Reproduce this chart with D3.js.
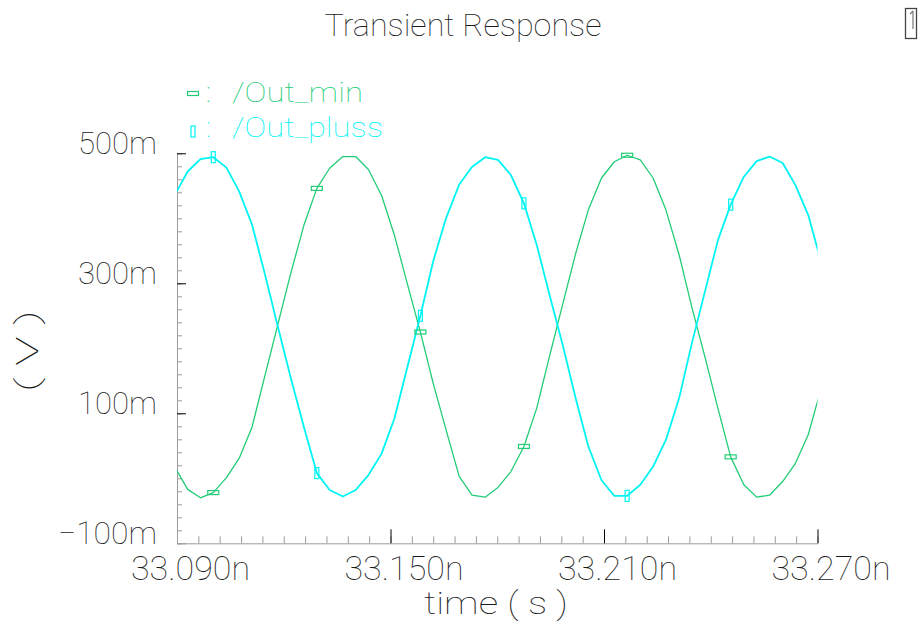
<!DOCTYPE html>
<html>
<head>
<meta charset="utf-8">
<script src="https://cdn.jsdelivr.net/npm/d3@7"></script>
<style>
  body { margin: 0; background: #fff; }
  svg text { font-family: Roboto, "DejaVu Sans", sans-serif; font-weight: 100; fill: #1a1a1a; }
</style>
</head>
<body>
<svg id="chart" width="921" height="625"></svg>
<script>
// sample times (ns) of the transient run
var times = [33.0893, 33.0930, 33.0966, 33.1002, 33.1039, 33.1075, 33.1111, 33.1148, 33.1184, 33.1220,
             33.1257, 33.1293, 33.1329, 33.1366, 33.1402, 33.1438, 33.1475, 33.1511, 33.1547, 33.1584,
             33.1620, 33.1656, 33.1693, 33.1729, 33.1766, 33.1802, 33.1838, 33.1875, 33.1911, 33.1947,
             33.1984, 33.2020, 33.2056, 33.2093, 33.2129, 33.2165, 33.2202, 33.2238, 33.2274, 33.2311,
             33.2347, 33.2384, 33.2420, 33.2456, 33.2493, 33.2529, 33.2565, 33.2602, 33.2638, 33.2674,
             33.2711]

// /Out_min (V)
var outMin = [0.018, -0.017, -0.030, -0.022, 0.001, 0.031, 0.079, 0.160, 0.238, 0.316,
              0.390, 0.446, 0.477, 0.495, 0.495, 0.475, 0.435, 0.374, 0.300, 0.225,
              0.146, 0.075, 0.003, -0.026, -0.029, -0.014, 0.010, 0.049, 0.108, 0.188,
              0.268, 0.345, 0.413, 0.462, 0.487, 0.497, 0.490, 0.462, 0.413, 0.344,
              0.263, 0.186, 0.108, 0.033, -0.010, -0.029, -0.026, -0.005, 0.023, 0.067,
              0.140]

// /Out_pluss (V)
var outPluss = [0.435, 0.472, 0.491, 0.494, 0.478, 0.441, 0.390, 0.312, 0.232, 0.154,
                0.078, 0.008, -0.018, -0.028, -0.018, 0.005, 0.038, 0.092, 0.170, 0.250,
                0.334, 0.400, 0.452, 0.479, 0.494, 0.490, 0.467, 0.423, 0.359, 0.282,
                0.205, 0.124, 0.049, -0.003, -0.027, -0.027, -0.010, 0.018, 0.059, 0.123,
                0.208, 0.288, 0.366, 0.421, 0.464, 0.488, 0.495, 0.485, 0.451, 0.405,
                0.331]

// sample indices that carry a marker
var markerIdx = [3, 11, 19, 27, 35, 43]

var xMajor = [33.09, 33.15, 33.21, 33.27]
var yMajor = [-0.1, 0.1, 0.3, 0.5]

var seriesNames = ["/Out_min", "/Out_pluss"]
var seriesColors = ["#22cc77", "#00f4f4"]

var dimensions = {
    left: 177,
    right: 817.5,
    top: 153.3,
    bottom: 543.3
}

var svg = d3.select("#chart")

var xScale = d3.scaleLinear()
    .domain([33.09, 33.27])
    .range([dimensions.left, dimensions.right])

var yScale = d3.scaleLinear()
    .domain([-0.1, 0.5])
    .range([dimensions.bottom, dimensions.top])

var xMinor = d3.range(0, 31).map(i => 33.09 + i * 0.006)
var yMinor = d3.range(0, 31).map(i => -0.1 + i * 0.02)

var axisGrey = "#9c9c9c"

// minor ticks
svg.append("g")
    .attr("transform", "translate(" + dimensions.left + ",0)")
    .call(d3.axisLeft(yScale).tickValues(yMinor).tickSize(-5).tickFormat(""))
    .call(g => g.select(".domain").remove())
    .selectAll("line").attr("stroke", axisGrey)

svg.append("g")
    .attr("transform", "translate(0," + dimensions.bottom + ")")
    .call(d3.axisBottom(xScale).tickValues(xMinor).tickSize(-7).tickFormat(""))
    .call(g => g.select(".domain").remove())
    .selectAll("line").attr("stroke", axisGrey)

// major ticks + labels
var yAxis = svg.append("g")
    .attr("transform", "translate(" + dimensions.left + ",0)")
    .call(d3.axisLeft(yScale)
        .tickValues(yMajor)
        .tickSize(-9)
        .tickSizeOuter(0)
        .tickPadding(20)
        .tickFormat(d => (Math.round(d * 1000) + "m").replace("-", "\u2212")))
yAxis.select(".domain").attr("stroke", axisGrey)
yAxis.selectAll(".tick line").attr("stroke", d => d == -0.1 ? axisGrey : "#000")
yAxis.selectAll(".tick text")
    .attr("dy", "0")
    .attr("fill", "#1a1a1a")
    .style("font-size", "31px")
    .attr("textLength", d => d < 0 ? 99 : 79)
    .attr("lengthAdjust", "spacingAndGlyphs")

var xAxis = svg.append("g")
    .attr("transform", "translate(0," + dimensions.bottom + ")")
    .call(d3.axisBottom(xScale)
        .tickValues(xMajor)
        .tickSize(-14)
        .tickSizeOuter(0)
        .tickPadding(13)
        .tickFormat(d => d3.format(".3f")(d) + "n"))
xAxis.select(".domain").attr("stroke", axisGrey)
xAxis.selectAll(".tick line").attr("stroke", d => d == 33.09 ? axisGrey : "#000")
xAxis.selectAll(".tick text")
    .attr("dx", 13)
    .attr("fill", "#1a1a1a")
    .style("font-size", "33px")
    .attr("textLength", 119)
    .attr("lengthAdjust", "spacingAndGlyphs")

// axis titles
svg.append("text")
    .attr("x", 496)
    .attr("y", 614)
    .attr("text-anchor", "middle")
    .style("font-size", "31px")
    .attr("textLength", 144)
    .attr("lengthAdjust", "spacingAndGlyphs")
    .text("time ( s )")

svg.append("text")
    .attr("transform", "translate(38,351) rotate(-90)")
    .attr("text-anchor", "middle")
    .style("font-size", "31px")
    .attr("textLength", 82)
    .attr("lengthAdjust", "spacingAndGlyphs")
    .text("( V )")

svg.append("text")
    .attr("x", 463)
    .attr("y", 36)
    .attr("text-anchor", "middle")
    .style("font-size", "31px")
    .attr("textLength", 277)
    .attr("lengthAdjust", "spacingAndGlyphs")
    .text("Transient Response")

// small page box, top right
var box = svg.append("g")
box.append("rect")
    .attr("x", 905.5).attr("y", 8.5).attr("width", 11).attr("height", 30)
    .attr("fill", "none").attr("stroke", "#444").attr("stroke-width", 1.3)
box.append("path")
    .attr("d", "M913,11 L913,29 M913,11 L910,14")
    .attr("fill", "none").attr("stroke", "#777").attr("stroke-width", 1.2)

// curves
svg.append("clipPath").attr("id", "plotClip")
    .append("rect")
    .attr("x", dimensions.left).attr("y", dimensions.top - 10)
    .attr("width", dimensions.right - dimensions.left)
    .attr("height", dimensions.bottom - dimensions.top + 10)

var line = d3.line()
    .x((d, i) => xScale(times[i]))
    .y(d => yScale(d))

var allSeries = [outMin, outPluss]
var plot = svg.append("g").attr("clip-path", "url(#plotClip)")

plot.selectAll(".wave")
    .data(allSeries)
    .enter()
    .append("path")
    .attr("class", "wave")
    .attr("fill", "none")
    .attr("stroke", (d, i) => seriesColors[i])
    .attr("stroke-width", (d, i) => i == 0 ? 1.3 : 1.8)
    .attr("stroke-linejoin", "round")
    .attr("d", d => line(d))

// markers: flat box for /Out_min, tall box for /Out_pluss
var markerSize = [[11, 4], [4, 11]]

allSeries.forEach(function (vals, s) {
    svg.append("g")
        .selectAll("rect")
        .data(markerIdx)
        .enter()
        .append("rect")
        .attr("x", k => xScale(times[k]) - markerSize[s][0] / 2)
        .attr("y", k => yScale(vals[k]) - markerSize[s][1] / 2)
        .attr("width", markerSize[s][0])
        .attr("height", markerSize[s][1])
        .attr("fill", "none")
        .attr("stroke", seriesColors[s])
        .attr("stroke-width", 1.2)
})

// legend
var legend = svg.append("g")
seriesNames.forEach(function (name, s) {
    var base = s == 0 ? 102 : 137
    var cx = 193
    var cy = s == 0 ? 93.5 : 131.5
    legend.append("rect")
        .attr("x", cx - markerSize[s][0] / 2)
        .attr("y", cy - markerSize[s][1] / 2)
        .attr("width", markerSize[s][0])
        .attr("height", markerSize[s][1])
        .attr("fill", "none")
        .attr("stroke", seriesColors[s])
        .attr("stroke-width", 1.2)
    legend.append("text")
        .attr("x", 206)
        .attr("y", base)
        .style("font-size", "27px")
        .style("fill", seriesColors[s])
        .text(":")
    legend.append("text")
        .attr("x", 232)
        .attr("y", base)
        .style("font-size", "27px")
        .style("fill", seriesColors[s])
        .attr("textLength", s == 0 ? 131 : 151)
        .attr("lengthAdjust", "spacingAndGlyphs")
        .text(name)
})
</script>
</body>
</html>
